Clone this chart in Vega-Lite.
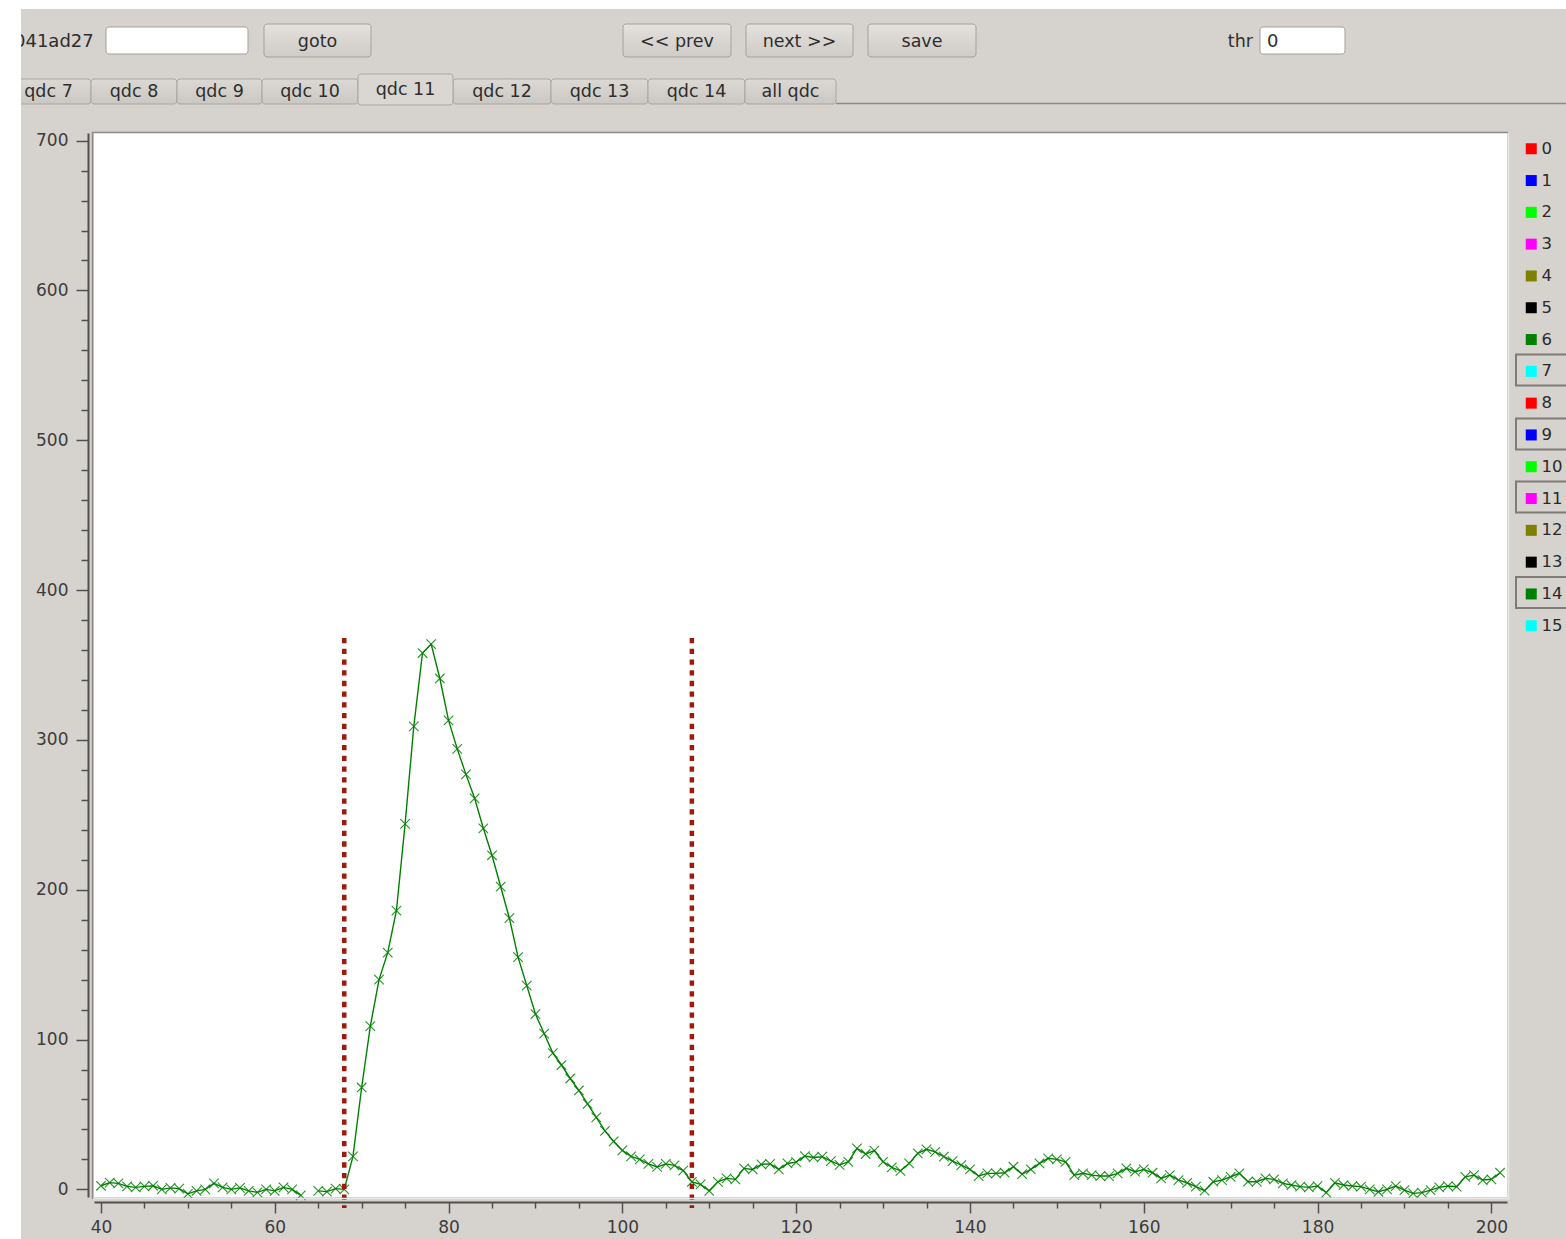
{
  "$schema": "https://vega.github.io/schema/vega-lite/v6.json",
  "width": 1413,
  "height": 1064,
  "autosize": {"type": "none"},
  "padding": {"left": 94, "top": 133, "right": 59, "bottom": 42},
  "background": "#d6d2ce",
  "config": {
    "font": "DejaVu Sans",
    "view": {"fill": "white", "stroke": null}
  },
  "datasets": {
    "trace": [
      {"sample": 40, "adc": 2.4, "ch": "14"}, {"sample": 41, "adc": 4.5, "ch": "14"}, {"sample": 42, "adc": 4.0, "ch": "14"},
      {"sample": 43, "adc": 2.0, "ch": "14"}, {"sample": 44, "adc": 1.3, "ch": "14"}, {"sample": 45, "adc": 2.0, "ch": "14"},
      {"sample": 46, "adc": 2.4, "ch": "14"}, {"sample": 47, "adc": 0.0, "ch": "14"}, {"sample": 48, "adc": 1.0, "ch": "14"},
      {"sample": 49, "adc": 0.5, "ch": "14"}, {"sample": 50, "adc": -3.0, "ch": "14"}, {"sample": 51, "adc": -1.0, "ch": "14"},
      {"sample": 52, "adc": 0.0, "ch": "14"}, {"sample": 53, "adc": 4.0, "ch": "14"}, {"sample": 54, "adc": 1.3, "ch": "14"},
      {"sample": 55, "adc": 0.0, "ch": "14"}, {"sample": 56, "adc": 1.0, "ch": "14"}, {"sample": 57, "adc": -1.0, "ch": "14"},
      {"sample": 58, "adc": -2.0, "ch": "14"}, {"sample": 59, "adc": 0.0, "ch": "14"}, {"sample": 60, "adc": -1.0, "ch": "14"},
      {"sample": 61, "adc": 1.3, "ch": "14"}, {"sample": 62, "adc": 0.0, "ch": "14"}, {"sample": 63, "adc": -4.0, "ch": "14"},
      {"sample": 64, "adc": null, "ch": "14"}, {"sample": 65, "adc": -1.0, "ch": "14"}, {"sample": 66, "adc": -1.5, "ch": "14"},
      {"sample": 67, "adc": 0.5, "ch": "14"}, {"sample": 68, "adc": 0.0, "ch": "14"}, {"sample": 69, "adc": 22, "ch": "14"},
      {"sample": 70, "adc": 68, "ch": "14"}, {"sample": 71, "adc": 109, "ch": "14"}, {"sample": 72, "adc": 140, "ch": "14"},
      {"sample": 73, "adc": 158, "ch": "14"}, {"sample": 74, "adc": 186, "ch": "14"}, {"sample": 75, "adc": 244, "ch": "14"},
      {"sample": 76, "adc": 309, "ch": "14"}, {"sample": 77, "adc": 358, "ch": "14"}, {"sample": 78, "adc": 364, "ch": "14"},
      {"sample": 79, "adc": 341, "ch": "14"}, {"sample": 80, "adc": 313, "ch": "14"}, {"sample": 81, "adc": 294, "ch": "14"},
      {"sample": 82, "adc": 277, "ch": "14"}, {"sample": 83, "adc": 261, "ch": "14"}, {"sample": 84, "adc": 241, "ch": "14"},
      {"sample": 85, "adc": 223, "ch": "14"}, {"sample": 86, "adc": 202, "ch": "14"}, {"sample": 87, "adc": 181, "ch": "14"},
      {"sample": 88, "adc": 155, "ch": "14"}, {"sample": 89, "adc": 136, "ch": "14"}, {"sample": 90, "adc": 117, "ch": "14"},
      {"sample": 91, "adc": 104, "ch": "14"}, {"sample": 92, "adc": 91, "ch": "14"}, {"sample": 93, "adc": 83, "ch": "14"},
      {"sample": 94, "adc": 74, "ch": "14"}, {"sample": 95, "adc": 66, "ch": "14"}, {"sample": 96, "adc": 57, "ch": "14"},
      {"sample": 97, "adc": 48, "ch": "14"}, {"sample": 98, "adc": 39, "ch": "14"}, {"sample": 99, "adc": 32, "ch": "14"},
      {"sample": 100, "adc": 26, "ch": "14"}, {"sample": 101, "adc": 22, "ch": "14"}, {"sample": 102, "adc": 20, "ch": "14"},
      {"sample": 103, "adc": 17, "ch": "14"}, {"sample": 104, "adc": 15, "ch": "14"}, {"sample": 105, "adc": 17, "ch": "14"},
      {"sample": 106, "adc": 16, "ch": "14"}, {"sample": 107, "adc": 12.5, "ch": "14"}, {"sample": 108, "adc": 5, "ch": "14"},
      {"sample": 109, "adc": 3.3, "ch": "14"}, {"sample": 110, "adc": -1, "ch": "14"}, {"sample": 111, "adc": 5, "ch": "14"},
      {"sample": 112, "adc": 7.3, "ch": "14"}, {"sample": 113, "adc": 6.7, "ch": "14"}, {"sample": 114, "adc": 14, "ch": "14"},
      {"sample": 115, "adc": 13.3, "ch": "14"}, {"sample": 116, "adc": 16.7, "ch": "14"}, {"sample": 117, "adc": 17, "ch": "14"},
      {"sample": 118, "adc": 13.3, "ch": "14"}, {"sample": 119, "adc": 17.3, "ch": "14"}, {"sample": 120, "adc": 18.2, "ch": "14"},
      {"sample": 121, "adc": 22.2, "ch": "14"}, {"sample": 122, "adc": 21.3, "ch": "14"}, {"sample": 123, "adc": 21.8, "ch": "14"},
      {"sample": 124, "adc": 18.9, "ch": "14"}, {"sample": 125, "adc": 16.4, "ch": "14"}, {"sample": 126, "adc": 18.4, "ch": "14"},
      {"sample": 127, "adc": 27.3, "ch": "14"}, {"sample": 128, "adc": 23.6, "ch": "14"}, {"sample": 129, "adc": 25.8, "ch": "14"},
      {"sample": 130, "adc": 18.4, "ch": "14"}, {"sample": 131, "adc": 14.7, "ch": "14"}, {"sample": 132, "adc": 12.4, "ch": "14"},
      {"sample": 133, "adc": 17.3, "ch": "14"}, {"sample": 134, "adc": 24, "ch": "14"}, {"sample": 135, "adc": 26.7, "ch": "14"},
      {"sample": 136, "adc": 25, "ch": "14"}, {"sample": 137, "adc": 21.8, "ch": "14"}, {"sample": 138, "adc": 18.9, "ch": "14"},
      {"sample": 139, "adc": 16.2, "ch": "14"}, {"sample": 140, "adc": 13.3, "ch": "14"}, {"sample": 141, "adc": 8.9, "ch": "14"},
      {"sample": 142, "adc": 10.7, "ch": "14"}, {"sample": 143, "adc": 10.7, "ch": "14"}, {"sample": 144, "adc": 11.1, "ch": "14"},
      {"sample": 145, "adc": 15.1, "ch": "14"}, {"sample": 146, "adc": 10.2, "ch": "14"}, {"sample": 147, "adc": 13.3, "ch": "14"},
      {"sample": 148, "adc": 17.3, "ch": "14"}, {"sample": 149, "adc": 20.7, "ch": "14"}, {"sample": 150, "adc": 20, "ch": "14"},
      {"sample": 151, "adc": 18.4, "ch": "14"}, {"sample": 152, "adc": 9.5, "ch": "14"}, {"sample": 153, "adc": 10.7, "ch": "14"},
      {"sample": 154, "adc": 9.5, "ch": "14"}, {"sample": 155, "adc": 8.9, "ch": "14"}, {"sample": 156, "adc": 8.9, "ch": "14"},
      {"sample": 157, "adc": 10.7, "ch": "14"}, {"sample": 158, "adc": 14, "ch": "14"}, {"sample": 159, "adc": 11.8, "ch": "14"},
      {"sample": 160, "adc": 13.3, "ch": "14"}, {"sample": 161, "adc": 11.1, "ch": "14"}, {"sample": 162, "adc": 7.3, "ch": "14"},
      {"sample": 163, "adc": 9.5, "ch": "14"}, {"sample": 164, "adc": 6.2, "ch": "14"}, {"sample": 165, "adc": 4.4, "ch": "14"},
      {"sample": 166, "adc": 1.8, "ch": "14"}, {"sample": 167, "adc": -0.9, "ch": "14"}, {"sample": 168, "adc": 5.1, "ch": "14"},
      {"sample": 169, "adc": 6.2, "ch": "14"}, {"sample": 170, "adc": 8.4, "ch": "14"}, {"sample": 171, "adc": 10.7, "ch": "14"},
      {"sample": 172, "adc": 5.1, "ch": "14"}, {"sample": 173, "adc": 5.1, "ch": "14"}, {"sample": 174, "adc": 7.3, "ch": "14"},
      {"sample": 175, "adc": 6.7, "ch": "14"}, {"sample": 176, "adc": 4, "ch": "14"}, {"sample": 177, "adc": 2.9, "ch": "14"},
      {"sample": 178, "adc": 1.8, "ch": "14"}, {"sample": 179, "adc": 1.3, "ch": "14"}, {"sample": 180, "adc": 2.2, "ch": "14"},
      {"sample": 181, "adc": -2.2, "ch": "14"}, {"sample": 182, "adc": 4.4, "ch": "14"}, {"sample": 183, "adc": 2.9, "ch": "14"},
      {"sample": 184, "adc": 2.2, "ch": "14"}, {"sample": 185, "adc": 1.8, "ch": "14"}, {"sample": 186, "adc": 0, "ch": "14"},
      {"sample": 187, "adc": -1.6, "ch": "14"}, {"sample": 188, "adc": 0, "ch": "14"}, {"sample": 189, "adc": 2.2, "ch": "14"},
      {"sample": 190, "adc": -0.5, "ch": "14"}, {"sample": 191, "adc": -2.7, "ch": "14"}, {"sample": 192, "adc": -2.2, "ch": "14"},
      {"sample": 193, "adc": -0.5, "ch": "14"}, {"sample": 194, "adc": 1.3, "ch": "14"}, {"sample": 195, "adc": 2.2, "ch": "14"},
      {"sample": 196, "adc": 1.8, "ch": "14"}, {"sample": 197, "adc": 8.4, "ch": "14"}, {"sample": 198, "adc": 9.5, "ch": "14"},
      {"sample": 199, "adc": 6.2, "ch": "14"}, {"sample": 200, "adc": 6.7, "ch": "14"}, {"sample": 201, "adc": 11.1, "ch": "14"}
    ],
    "gate": [{"sample": 68}, {"sample": 108}],
    "widgets": [
      {"kind": "field", "x0": 106, "x1": 248, "y0": 27, "y1": 54},
      {"kind": "field", "x0": 1260, "x1": 1345, "y0": 27, "y1": 54},
      {"kind": "button", "x0": 264, "x1": 371, "y0": 24, "y1": 57},
      {"kind": "button", "x0": 623, "x1": 731, "y0": 24, "y1": 57},
      {"kind": "button", "x0": 746, "x1": 853, "y0": 24, "y1": 57},
      {"kind": "button", "x0": 868, "x1": 976, "y0": 24, "y1": 57},
      {"kind": "tab", "x0": 8, "x1": 91, "y0": 79, "y1": 104},
      {"kind": "tab", "x0": 91, "x1": 177, "y0": 79, "y1": 104},
      {"kind": "tab", "x0": 177, "x1": 262, "y0": 79, "y1": 104},
      {"kind": "tab", "x0": 262, "x1": 358, "y0": 79, "y1": 104},
      {"kind": "tab", "x0": 453, "x1": 551, "y0": 79, "y1": 104},
      {"kind": "tab", "x0": 551, "x1": 648, "y0": 79, "y1": 104},
      {"kind": "tab", "x0": 648, "x1": 745, "y0": 79, "y1": 104},
      {"kind": "tab", "x0": 745, "x1": 836, "y0": 79, "y1": 104},
      {"kind": "tabsel", "x0": 358, "x1": 453, "y0": 74, "y1": 105},
      {"kind": "toggle", "x0": 1516, "x1": 1590, "y0": 354.5, "y1": 385.5},
      {"kind": "toggle", "x0": 1516, "x1": 1590, "y0": 418.5, "y1": 449.5},
      {"kind": "toggle", "x0": 1516, "x1": 1590, "y0": 481.5, "y1": 512.5},
      {"kind": "toggle", "x0": 1516, "x1": 1590, "y0": 577, "y1": 608},
      {"kind": "blank", "x0": 0, "x1": 1566, "y0": 0, "y1": 9},
      {"kind": "blank", "x0": 0, "x1": 21, "y0": 0, "y1": 1239}
    ],
    "edges": [
      {"kind": "dark", "x0": 92, "x1": 1508, "y0": 132.5, "y1": 132.5},
      {"kind": "dark", "x0": 92.5, "x1": 92.5, "y0": 132, "y1": 1199},
      {"kind": "light", "x0": 93, "x1": 1509, "y0": 1198.5, "y1": 1198.5},
      {"kind": "light", "x0": 1508.5, "x1": 1508.5, "y0": 133, "y1": 1200},
      {"kind": "dark", "x0": 836, "x1": 1566, "y0": 103.5, "y1": 103.5}
    ],
    "captions": [
      {"kind": "start", "text": "041ad27", "x": 14, "y": 46.5},
      {"kind": "middle", "text": "goto", "x": 317.5, "y": 46.5},
      {"kind": "middle", "text": "<< prev", "x": 677, "y": 46.5},
      {"kind": "middle", "text": "next >>", "x": 799.5, "y": 46.5},
      {"kind": "middle", "text": "save", "x": 922, "y": 46.5},
      {"kind": "end", "text": "thr", "x": 1253, "y": 46.5},
      {"kind": "start", "text": "0", "x": 1267, "y": 46.5},
      {"kind": "middle", "text": "qdc 7", "x": 48.5, "y": 96.5},
      {"kind": "middle", "text": "qdc 8", "x": 134, "y": 96.5},
      {"kind": "middle", "text": "qdc 9", "x": 219.5, "y": 96.5},
      {"kind": "middle", "text": "qdc 10", "x": 310, "y": 96.5},
      {"kind": "middle", "text": "qdc 11", "x": 405.5, "y": 94.5},
      {"kind": "middle", "text": "qdc 12", "x": 502, "y": 96.5},
      {"kind": "middle", "text": "qdc 13", "x": 599.5, "y": 96.5},
      {"kind": "middle", "text": "qdc 14", "x": 696.5, "y": 96.5},
      {"kind": "middle", "text": "all qdc", "x": 790.5, "y": 96.5}
    ]
  },
  "resolve": {"scale": {"x": "independent", "y": "independent"}},
  "layer": [
    {
      "resolve": {"scale": {"color": "independent"}},
      "layer": [
        {
          "data": {"values": [{}]},
          "mark": {"type": "rect", "fill": "#ffffff"},
          "encoding": {
            "x": {"datum": 39.2, "type": "quantitative",
              "scale": {"domain": [39.2, 201.8], "nice": false, "zero": false},
              "axis": {
                "title": null, "grid": false, "offset": 5, "tickCount": 200,
                "values": [40, 45, 50, 55, 60, 65, 70, 75, 80, 85, 90, 95, 100, 105, 110, 115, 120, 125, 130, 135, 140, 145, 150, 155, 160, 165, 170, 175, 180, 185, 190, 195, 200],
                "labelExpr": "datum.value % 20 === 0 ? datum.label : ''",
                "tickSize": {"condition": {"test": "datum.value % 20 === 0", "value": 11}, "value": 6},
                "domainColor": "#505050", "domainWidth": 2, "tickColor": "#505050", "tickWidth": 1.5,
                "labelFont": "DejaVu Sans", "labelFontSize": 17, "labelColor": "#3c3c3c",
                "labelPadding": 6, "labelFlush": false, "labelOverlap": false
              }
            },
            "x2": {"datum": 201.8},
            "y": {"datum": -5.1, "type": "quantitative",
              "scale": {"domain": [-5.1, 705.1], "nice": false, "zero": false},
              "axis": {
                "title": null, "grid": false, "offset": 6, "tickCount": 200,
                "values": [0, 20, 40, 60, 80, 100, 120, 140, 160, 180, 200, 220, 240, 260, 280, 300, 320, 340, 360, 380, 400, 420, 440, 460, 480, 500, 520, 540, 560, 580, 600, 620, 640, 660, 680, 700],
                "labelExpr": "datum.value % 100 === 0 ? datum.label : ''",
                "tickSize": {"condition": {"test": "datum.value % 100 === 0", "value": 12}, "value": 7},
                "domainColor": "#505050", "domainWidth": 2, "tickColor": "#505050", "tickWidth": 1.5,
                "labelFont": "DejaVu Sans", "labelFontSize": 17, "labelColor": "#3c3c3c",
                "labelPadding": 8, "labelFlush": false, "labelOverlap": false
              }
            },
            "y2": {"datum": 705.1}
          }
        },
        {
          "data": {"name": "trace"},
          "mark": {"type": "line", "strokeWidth": 1.4, "invalid": "break-paths-filter-domains"},
          "encoding": {
            "x": {"field": "sample", "type": "quantitative"},
            "y": {"field": "adc", "type": "quantitative"},
            "color": {
              "field": "ch", "type": "nominal",
              "scale": {
                "domain": ["0", "1", "2", "3", "4", "5", "6", "7", "8", "9", "10", "11", "12", "13", "14", "15"],
                "range": ["#ff0000", "#0000ff", "#00ff00", "#ff00ff", "#808000", "#000000", "#008000", "#00ffff", "#ff0000", "#0000ff", "#00ff00", "#ff00ff", "#808000", "#000000", "#008000", "#00ffff"]
              },
              "legend": null
            }
          }
        },
        {
          "data": {"name": "trace"},
          "mark": {"type": "point", "shape": "M-1,-1L1,1M-1,1L1,-1", "filled": false, "size": 90, "strokeWidth": 1.1, "opacity": 0.85},
          "encoding": {
            "x": {"field": "sample", "type": "quantitative"},
            "y": {"field": "adc", "type": "quantitative"},
            "color": {
              "field": "ch", "type": "nominal",
              "scale": {
                "domain": ["0", "1", "2", "3", "4", "5", "6", "7", "8", "9", "10", "11", "12", "13", "14", "15"],
                "range": ["#ff0000", "#0000ff", "#00ff00", "#ff00ff", "#808000", "#000000", "#008000", "#00ffff", "#ff0000", "#0000ff", "#00ff00", "#ff00ff", "#808000", "#000000", "#008000", "#00ffff"]
              },
              "legend": null
            }
          }
        },
        {
          "data": {"name": "gate"},
          "mark": {"type": "rule", "color": "#9e1a0a", "strokeWidth": 4.5, "strokeDash": [5.3, 5.4]},
          "encoding": {
            "x": {"field": "sample", "type": "quantitative"},
            "y": {"datum": 368},
            "y2": {"datum": -12.5}
          }
        },
        {
          "data": {"name": "trace"},
          "transform": [{"filter": "false"}],
          "mark": {"type": "square", "filled": true},
          "encoding": {
            "color": {
              "field": "ch", "type": "nominal",
              "scale": {
                "domain": ["0", "1", "2", "3", "4", "5", "6", "7", "8", "9", "10", "11", "12", "13", "14", "15"],
                "range": ["#ff0000", "#0000ff", "#00ff00", "#ff00ff", "#808000", "#000000", "#008000", "#00ffff", "#ff0000", "#0000ff", "#00ff00", "#ff00ff", "#808000", "#000000", "#008000", "#00ffff"]
              },
              "legend": {
                "orient": "none", "legendX": 1429, "legendY": 7.5, "title": null,
                "symbolType": "square", "symbolSize": 121, "symbolStrokeWidth": 0, "symbolOpacity": 1,
                "labelFont": "DejaVu Sans", "labelFontSize": 16.5, "labelColor": "#2a2a2a",
                "labelOffset": 2, "rowPadding": 14.8, "padding": 0
              }
            }
          }
        }
      ]
    },
    {
      "layer": [
        {
          "data": {"name": "widgets"},
          "transform": [{"filter": "datum.kind === 'tab'"}],
          "mark": {"type": "rect", "stroke": "#a9a5a1", "strokeWidth": 1, "cornerRadius": 3,
            "fill": {"gradient": "linear", "x1": 0, "y1": 0, "x2": 0, "y2": 1, "stops": [{"offset": 0, "color": "#dcd8d4"}, {"offset": 1, "color": "#cbc7c3"}]}},
          "encoding": {
            "x": {"field": "x0", "type": "quantitative", "scale": {"domain": [0, 1566], "range": [-94, 1472], "nice": false, "zero": false}, "axis": null},
            "x2": {"field": "x1"},
            "y": {"field": "y0", "type": "quantitative", "scale": {"domain": [0, 1239], "range": [-133, 1106], "nice": false, "zero": false}, "axis": null},
            "y2": {"field": "y1"}
          }
        },
        {
          "data": {"name": "edges"},
          "mark": {"type": "rule", "strokeWidth": 1.5},
          "encoding": {
            "x": {"field": "x0", "type": "quantitative"},
            "x2": {"field": "x1"},
            "y": {"field": "y0", "type": "quantitative"},
            "y2": {"field": "y1"},
            "color": {"condition": {"test": "datum.kind === 'dark'", "value": "#8d8985"}, "value": "#e6e6e6"}
          }
        },
        {
          "data": {"name": "widgets"},
          "transform": [{"filter": "datum.kind === 'tabsel'"}],
          "mark": {"type": "rect", "stroke": "#a9a5a1", "strokeWidth": 1, "cornerRadius": 3, "fill": "#dad6d2"},
          "encoding": {
            "x": {"field": "x0", "type": "quantitative"}, "x2": {"field": "x1"},
            "y": {"field": "y0", "type": "quantitative"}, "y2": {"field": "y1"}
          }
        },
        {
          "data": {"name": "widgets"},
          "transform": [{"filter": "datum.kind === 'button'"}],
          "mark": {"type": "rect", "stroke": "#a5a19d", "strokeWidth": 1, "cornerRadius": 3,
            "fill": {"gradient": "linear", "x1": 0, "y1": 0, "x2": 0, "y2": 1, "stops": [{"offset": 0, "color": "#e4e1de"}, {"offset": 1, "color": "#cfcbc7"}]}},
          "encoding": {
            "x": {"field": "x0", "type": "quantitative"}, "x2": {"field": "x1"},
            "y": {"field": "y0", "type": "quantitative"}, "y2": {"field": "y1"}
          }
        },
        {
          "data": {"name": "widgets"},
          "transform": [{"filter": "datum.kind === 'field'"}],
          "mark": {"type": "rect", "stroke": "#a5a19d", "strokeWidth": 1, "cornerRadius": 3, "fill": "#ffffff"},
          "encoding": {
            "x": {"field": "x0", "type": "quantitative"}, "x2": {"field": "x1"},
            "y": {"field": "y0", "type": "quantitative"}, "y2": {"field": "y1"}
          }
        },
        {
          "data": {"name": "widgets"},
          "transform": [{"filter": "datum.kind === 'toggle'"}],
          "mark": {"type": "rect", "stroke": "#7f7b77", "strokeWidth": 2, "fill": null},
          "encoding": {
            "x": {"field": "x0", "type": "quantitative"}, "x2": {"field": "x1"},
            "y": {"field": "y0", "type": "quantitative"}, "y2": {"field": "y1"}
          }
        },
        {
          "data": {"name": "captions"},
          "transform": [{"filter": "datum.kind === 'middle'"}],
          "mark": {"type": "text", "font": "DejaVu Sans", "fontSize": 17.5, "color": "#2e2e2e", "baseline": "alphabetic", "align": "center"},
          "encoding": {
            "x": {"field": "x", "type": "quantitative"},
            "y": {"field": "y", "type": "quantitative"},
            "text": {"field": "text"}
          }
        },
        {
          "data": {"name": "captions"},
          "transform": [{"filter": "datum.kind === 'start'"}],
          "mark": {"type": "text", "font": "DejaVu Sans", "fontSize": 18, "color": "#2e2e2e", "baseline": "alphabetic", "align": "left"},
          "encoding": {
            "x": {"field": "x", "type": "quantitative"},
            "y": {"field": "y", "type": "quantitative"},
            "text": {"field": "text"}
          }
        },
        {
          "data": {"name": "captions"},
          "transform": [{"filter": "datum.kind === 'end'"}],
          "mark": {"type": "text", "font": "DejaVu Sans", "fontSize": 17.5, "color": "#2e2e2e", "baseline": "alphabetic", "align": "right"},
          "encoding": {
            "x": {"field": "x", "type": "quantitative"},
            "y": {"field": "y", "type": "quantitative"},
            "text": {"field": "text"}
          }
        },
        {
          "data": {"name": "widgets"},
          "transform": [{"filter": "datum.kind === 'blank'"}],
          "mark": {"type": "rect", "fill": "#ffffff"},
          "encoding": {
            "x": {"field": "x0", "type": "quantitative"}, "x2": {"field": "x1"},
            "y": {"field": "y0", "type": "quantitative"}, "y2": {"field": "y1"}
          }
        }
      ]
    }
  ]
}
